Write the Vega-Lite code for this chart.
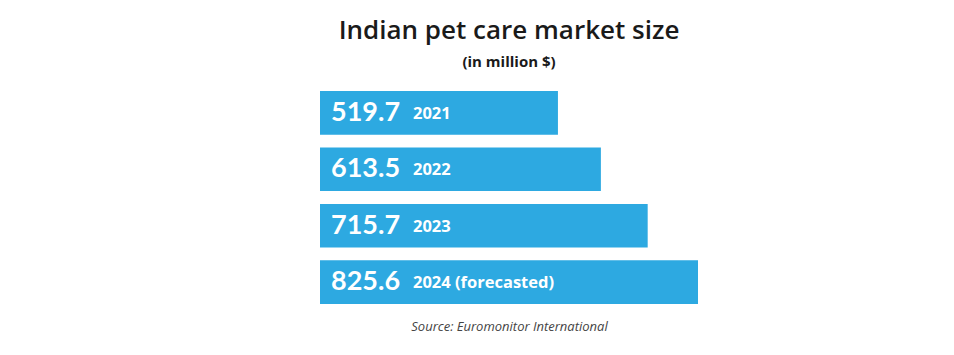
{
  "$schema": "https://vega.github.io/schema/vega-lite/v6.json",
  "autosize": "none",
  "padding": {"left": 320, "top": 91, "right": 256, "bottom": 51},
  "width": 378,
  "height": 213,
  "background": "white",
  "title": {
    "text": "Indian pet care market size",
    "subtitle": "(in million $)",
    "anchor": "middle",
    "font": "Open Sans",
    "fontSize": 26,
    "fontWeight": 600,
    "color": "#1a1a1a",
    "subtitleFont": "Open Sans",
    "subtitleFontSize": 15,
    "subtitleFontWeight": "bold",
    "subtitleColor": "#1a1a1a",
    "subtitlePadding": 11,
    "offset": 21
  },
  "data": {
    "values": [
      {"year": "2021", "label": "2021", "value": 519.7},
      {"year": "2022", "label": "2022", "value": 613.5},
      {"year": "2023", "label": "2023", "value": 715.7},
      {"year": "2024", "label": "2024 (forecasted)", "value": 825.6}
    ]
  },
  "encoding": {
    "y": {
      "field": "year",
      "type": "nominal",
      "sort": ["2021", "2022", "2023", "2024"],
      "scale": {"paddingInner": 0.227, "paddingOuter": 0},
      "axis": null
    }
  },
  "layer": [
    {
      "mark": {"type": "bar", "color": "#2DA9E1", "clip": false},
      "encoding": {
        "x": {
          "field": "value",
          "type": "quantitative",
          "scale": {"domain": [0, 825.6], "nice": false},
          "axis": {
            "labels": false,
            "ticks": false,
            "domain": false,
            "grid": false,
            "title": "Source: Euromonitor International",
            "titleFont": "Open Sans",
            "titleFontSize": 13,
            "titleFontStyle": "italic",
            "titleFontWeight": "normal",
            "titleColor": "#444444",
            "titlePadding": 16
          }
        }
      }
    },
    {
      "mark": {"type": "text", "align": "left", "baseline": "middle", "dx": 11, "font": "Lato", "fontSize": 27, "fontWeight": "bold", "color": "white"},
      "encoding": {
        "x": {"datum": 0, "type": "quantitative"},
        "text": {"field": "value", "type": "quantitative", "format": ".1f"}
      }
    },
    {
      "mark": {"type": "text", "align": "left", "baseline": "middle", "dx": 93, "dy": 1, "font": "Open Sans", "fontSize": 16.5, "fontWeight": "bold", "color": "white"},
      "encoding": {
        "x": {"datum": 0, "type": "quantitative"},
        "text": {"field": "label", "type": "nominal"}
      }
    }
  ],
  "config": {"view": {"stroke": null}}
}
